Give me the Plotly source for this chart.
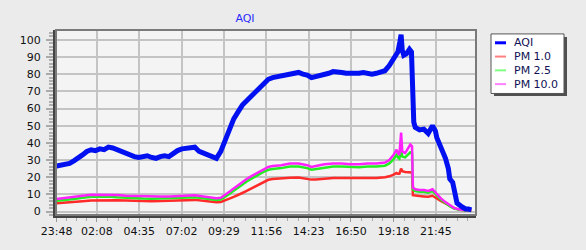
import plotly.graph_objects as go

# ---- data (minutes after 23:48) ----
aqi_min = [0,15,30,45,60,75,90,105,120,135,150,165,180,195,210,225,240,255,270,285,300,315,330,345,360,375,390,405,420,435,450,465,480,495,510,525,540,555,570,585,600,615,630,645,660,675,690,705,720,
           735,750,765,780,795,810,825,840,855,870,885,900,915,930,945,960,975,990,1005,1020,1035,1050,1065,1080,1095,1110,1125,1140,
           1155,1170,1180,1185,1192,1196,1200,1205,1215,1225,1232,1236,1240,1245,1260,1275,1290,1305,1315,1320,1335,1350,1360,1365,1375,1380,1390,1405,1420,1430,1440]
aqi = [26.5,27,27.5,28,29.5,31,33,35,36,35.5,36.5,36,37.5,37,36,34.5,34,33,32,31.5,32,32.5,31.5,31,32,32.5,32,34,35.5,36.5,37,37.5,37.5,35,34,33,32,31,35,42,49,54,58,62,64.5,67,69,71,74.5,
       77,78,78.5,79,79.5,80,80.5,81,80,79.5,78,78.5,79,80,80.5,81.5,81.5,81,80.5,80.5,80,80.5,81,80.5,80,80.5,81,82,
       85,89,91,93,99,103,94,91,92,94.5,93,70,52,49,47.5,48,45.5,50,47,43,37,31,25,19,17,12,5,3,1.5,1.5,1.0]

pm_min = [0,30,60,90,120,150,180,210,240,270,300,330,360,390,420,450,480,510,540,
          555,570,585,600,615,630,645,660,675,690,705,720,735,750,
          780,810,840,870,885,900,930,960,990,1020,1050,1080,1110,1140,
          1155,1170,1180,1185,1190,1196,1200,1210,1220,1228,1234,1237,1245,
          1260,1275,1290,1305,1320,1335,1350,1365,1380,1400,1420,1440]
pm10 = [7.3,7.8,8.5,9.2,9.8,9.8,10,9.6,9.2,9.0,8.8,8.6,8.7,8.8,9.0,9.3,9.5,8.8,8.2,
        7.8,8.0,9.5,11.5,13.5,15.5,17.5,19,20.5,22,23.5,25,26,26.5,
        27,28,28,27,26,26.5,27.5,28,28,27.5,27.5,28,28,28.5,
        30,33,36,34,33,46,35,34,37,39,38,14,13,
        12.5,12.5,12,13,10,7.5,5.5,3.5,2,1.2,0.8,0.6]
pm25 = [6.3,6.7,7.3,8.0,8.6,8.6,8.8,8.4,8.0,7.8,7.6,7.5,7.6,7.7,7.9,8.2,8.3,7.7,7.1,
        6.8,7.0,8.5,10.3,12.2,14,16,17.5,19,20.5,22,23.3,24.3,24.8,
        25.3,26.2,26.2,25.3,24.4,24.8,25.7,26.2,26.2,25.8,25.8,26.2,26.2,26.7,
        28,30.5,33,31.5,30.8,36,32,31.5,33.5,34.5,34,12.8,12,
        11.5,11.5,11,12,9.2,6.8,5,3.1,1.8,1.0,0.7,0.5]
pm1 = [4.8,5.1,5.5,6.0,6.5,6.6,6.8,6.6,6.5,6.3,6.1,6.0,6.2,6.3,6.5,6.7,6.8,6.3,5.8,
       5.4,5.6,6.4,7.5,8.5,9.5,10.8,12,13.3,14.5,15.8,17,18.5,19,
       19.5,19.7,19.8,19.0,18.6,18.7,19.2,19.5,19.6,19.5,19.4,19.5,19.6,20,
       20.5,21.5,22.5,22,22,25,23.5,23,22.8,23,22.8,9.5,9.2,
       9,8.8,8.6,9.2,7.5,6,4.8,3.2,2,1.0,0.7,0.5]

tick_min = [0,140,287,434,581,728,875,1022,1170,1317]
tick_lbl = ["23:48","02:08","04:35","07:02","09:29","11:56","14:23","16:50","19:18","21:45"]

series_names = ["AQI", "PM 1.0", "PM 2.5", "PM 10.0"]
legend_colors = ["#0000ff", "#ff8080", "#80ff80", "#ff80ff"]

fig = go.Figure()
fig.add_trace(go.Scatter(x=pm_min, y=pm1, mode="lines", name="PM 1.0",
                         line=dict(color="#ff2a2a", width=2.5), showlegend=False))
fig.add_trace(go.Scatter(x=pm_min, y=pm25, mode="lines", name="PM 2.5",
                         line=dict(color="#22ee22", width=2.5), showlegend=False))
fig.add_trace(go.Scatter(x=pm_min, y=pm10, mode="lines", name="PM 10.0",
                         line=dict(color="#ff22ff", width=2.5), showlegend=False))
fig.add_trace(go.Scatter(x=aqi_min, y=aqi, mode="lines", name="AQI",
                         line=dict(color="#0010f0", width=5), showlegend=False))

# minor tick positions
minor_vals = []
for i in range(len(tick_min)):
    a = tick_min[i]
    b = tick_min[i + 1] if i + 1 < len(tick_min) else a + 147
    for k in range(1, 4):
        minor_vals.append(a + (b - a) * k / 4)

fig.update_xaxes(range=[-2, 1456], tickmode="array", tickvals=tick_min, ticktext=tick_lbl,
                 showgrid=True, gridcolor="#c4c4c4", gridwidth=2,
                 showline=True, linecolor="#444444", linewidth=3,
                 ticks="outside", ticklen=4, tickcolor="#999999", tickwidth=1,
                 minor=dict(tickvals=minor_vals, ticks="outside", ticklen=3, tickcolor="#aaaaaa", showgrid=False),
                 tickfont=dict(family="DejaVu Sans", size=11, color="#111111"),
                 zeroline=False)
fig.update_yaxes(range=[-2, 105.7], tickmode="linear", tick0=0, dtick=10,
                 showgrid=True, gridcolor="#c4c4c4", gridwidth=2,
                 showline=True, linecolor="#444444", linewidth=3,
                 ticks="outside", ticklen=7, tickcolor="#aaaaaa", tickwidth=2,
                 ticklabelstandoff=3,
                 minor=dict(dtick=2, ticks="outside", ticklen=4, tickcolor="#b0b0b0", showgrid=False),
                 tickfont=dict(family="DejaVu Sans", size=11, color="#111111"),
                 zeroline=False)

shapes = [
    # plot frame (top/right)
    dict(type="rect", xref="paper", yref="paper", x0=0, x1=1, y0=0, y1=1,
         line=dict(color="#7a7a7a", width=2), layer="above"),
    # legend shadow
    dict(type="rect", xref="paper", yref="paper",
         x0=(494 - 56) / 420, x1=(567 - 56) / 420, y0=(218 - 97) / 188, y1=(218 - 37) / 188,
         fillcolor="#505050", line=dict(width=0), layer="above"),
    # legend box
    dict(type="rect", xref="paper", yref="paper",
         x0=(491 - 56) / 420, x1=(564 - 56) / 420, y0=(218 - 94.5) / 188, y1=(218 - 34) / 188,
         fillcolor="#ffffff", line=dict(color="#555555", width=1), layer="above"),
]
annotations = []
row_y = [43, 57, 71, 85]
for name, col, ry in zip(series_names, legend_colors, row_y):
    yp = (218 - ry) / 188
    shapes.append(dict(type="line", xref="paper", yref="paper",
                       x0=(495 - 56) / 420, x1=(506 - 56) / 420, y0=yp, y1=yp,
                       line=dict(color=col, width=3 if name == "AQI" else 2), layer="above"))
    annotations.append(dict(xref="paper", yref="paper", x=(512 - 56) / 420, y=yp,
                            text=name, showarrow=False, xanchor="left", yanchor="middle",
                            font=dict(family="DejaVu Sans", size=11, color="#111155")))

fig.update_layout(
    width=586, height=250,
    margin=dict(l=56, r=110, t=30, b=32),
    paper_bgcolor="#ebebeb", plot_bgcolor="#f4f4f4",
    title=dict(text="AQI", x=245 / 586, xanchor="center", y=1 - 18 / 250, yanchor="middle",
               font=dict(family="DejaVu Sans", size=11, color="#2a2aff")),
    showlegend=False,
    shapes=shapes, annotations=annotations,
)

fig.write_html("out.html")
